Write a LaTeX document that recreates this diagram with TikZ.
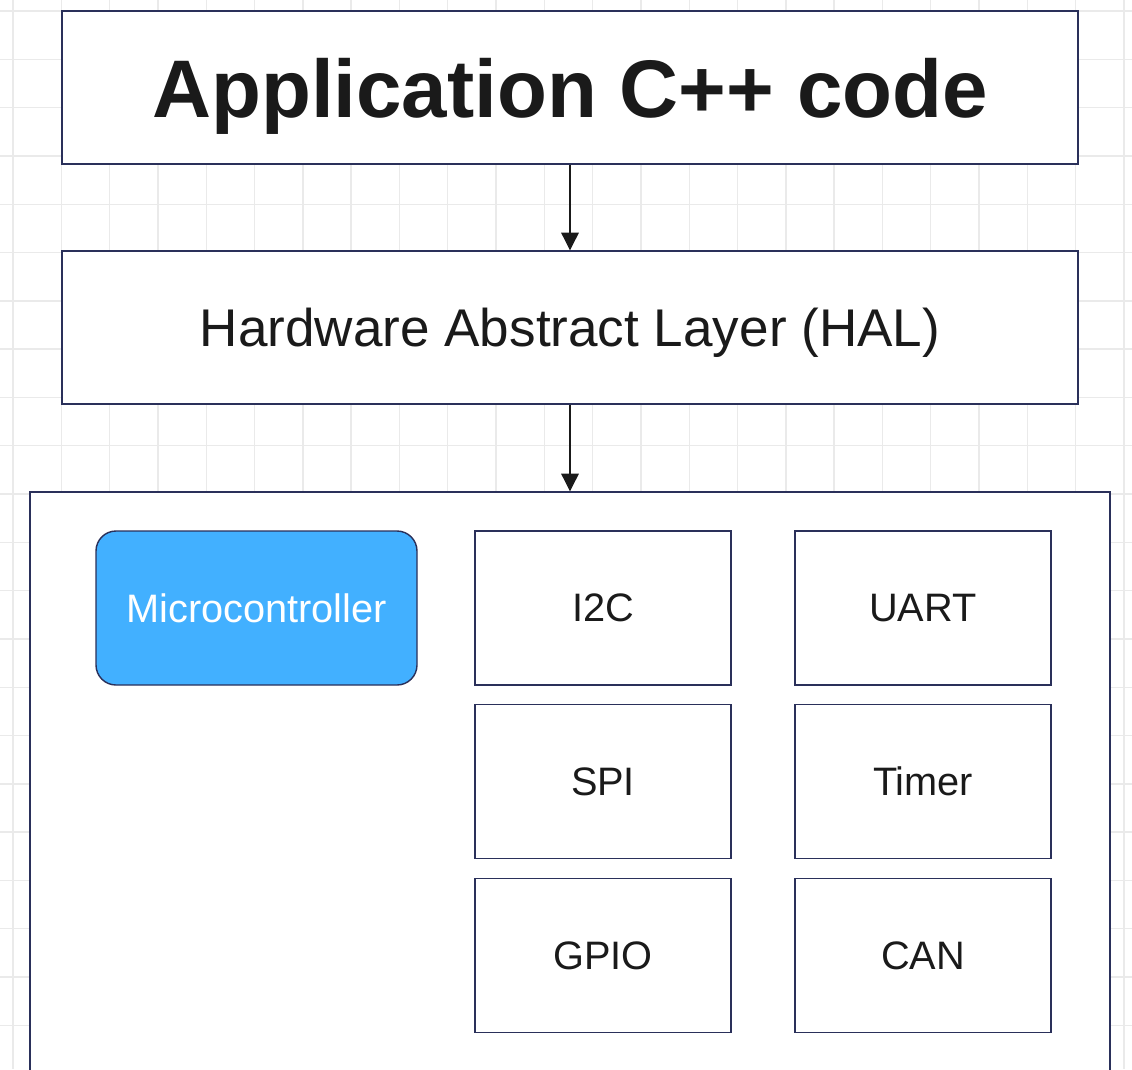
\documentclass[tikz,border=0pt]{standalone}
\usepackage{fontspec}
\setmainfont{Liberation Sans}
\usepackage{tikz}
\usetikzlibrary{arrows.meta,positioning}

\definecolor{edge}{RGB}{42,48,90}
\definecolor{mcublue}{RGB}{66,176,255}
\definecolor{gridgray}{RGB}{234,234,234}
\definecolor{ink}{RGB}{26,26,26}

\begin{document}
\begin{tikzpicture}[
  layer/.style={draw=edge, line width=0.8pt, fill=white, text=ink, text depth=0pt,
    minimum width=20.32cm, minimum height=3.06cm, inner sep=0pt},
  cell/.style={draw=edge, line width=0.8pt, fill=white, text=ink,
    minimum width=5.12cm, minimum height=3.08cm, inner sep=0pt,
    font=\fontsize{22.6}{26}\selectfont},
  flow/.style={-{Triangle[length=10pt,width=10pt]}, draw=ink, line width=0.6pt}
]

\useasboundingbox (0,0) rectangle (22.64,-21.38);
\clip (0,0) rectangle (22.64,-21.38);
\fill[white] (0,0) rectangle (22.64,-21.38);

% background grid
\foreach \k in {0,...,23}
  \draw[gridgray, line width=0.8pt] ({0.26+0.966*\k},0) -- ({0.26+0.966*\k},-21.38);
\foreach \k in {0,...,22}
  \draw[gridgray, line width=0.8pt] (0,{-0.22-0.966*\k}) -- (22.64,{-0.22-0.966*\k});

\node[layer, font=\fontsize{46.5}{50}\selectfont\bfseries] (app) at (11.4,-1.75) {Application C++ code};
\node[layer, font=\fontsize{30.2}{34}\selectfont] (hal) at (11.4,-6.55) {Hardware Abstract Layer (HAL)};

\node[draw=edge, line width=0.8pt, fill=white, minimum width=21.6cm, minimum height=12.56cm] (hw) at (11.4,-16.12) {};

\node[draw=edge, line width=0.8pt, fill=mcublue, text=white, rounded corners=0.4cm,
  minimum width=6.42cm, minimum height=3.08cm, font=\fontsize{22.6}{26}\selectfont] (mcu) at (5.13,-12.16) {Microcontroller};

\node[cell] (i2c)   at (12.06,-12.16) {I2C};
\node[cell] (uart)  at (18.46,-12.16) {UART};
\node[cell] (spi)   at (12.06,-15.63) {SPI};
\node[cell] (timer) at (18.46,-15.63) {Timer};
\node[cell] (gpio)  at (12.06,-19.11) {GPIO};
\node[cell] (can)   at (18.46,-19.11) {CAN};

\draw[flow] (app.south) -- (hal.north);
\draw[flow] (hal.south) -- (hw.north);

\end{tikzpicture}
\end{document}
